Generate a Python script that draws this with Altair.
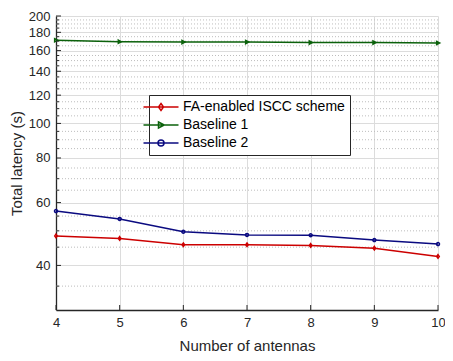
import altair as alt
import pandas as pd

# ---- data ----
antennas = [4, 5, 6, 7, 8, 9, 10]
fa_iscc = [48.4, 47.6, 45.7, 45.7, 45.5, 44.7, 42.4]
baseline1 = [171.0, 169.5, 169.0, 169.0, 168.5, 168.5, 168.0]
baseline2 = [56.8, 54.0, 49.7, 48.7, 48.6, 47.1, 45.9]
series_names = ["FA-enabled ISCC scheme", "Baseline 1", "Baseline 2"]
y_major = [40, 60, 80, 100, 120, 140, 160, 180, 200]
y_minor = [35, 45, 50, 55, 65, 70, 75, 85, 90, 95, 105, 110, 115, 125, 130,
           135, 145, 150, 155, 165, 170, 175, 185, 190, 195]
x_ticks = [4, 5, 6, 7, 8, 9, 10]

colors = ["#cc0000", "#0b610b", "#0a0a80"]
marker_paths = [
    "M0,-1.2L0.85,0L0,1.2L-0.85,0Z",
    "M-0.9,-1.05L1.1,0L-0.9,1.05Z",
    "M1,0A1,1 0 1,1 -1,0A1,1 0 1,1 1,0Z",
]
legend_paths = [
    "M-3.5,0H3.5M0,-0.7L0.5,0L0,0.7L-0.5,0Z",
    "M-3.5,0H3.5M-0.5,-0.6L0.65,0L-0.5,0.6Z",
    "M-3.5,0H3.5M0.6,0A0.6,0.6 0 1,1 -0.6,0A0.6,0.6 0 1,1 0.6,0Z",
]

rows = []
for name, vals in zip(series_names, [fa_iscc, baseline1, baseline2]):
    for a, v in zip(antennas, vals):
        rows.append({"antennas": a, "latency": v, "series": name})
df = pd.DataFrame(rows)
major_df = pd.DataFrame({"latency": y_major})
minor_df = pd.DataFrame({"latency": y_minor})
xt_df = pd.DataFrame({"antennas": x_ticks})

W, H = 382, 294
FONT = "Liberation Sans"
AX = "#262626"

yscale = alt.Scale(type="log", domain=[30, 200], nice=False)
xscale = alt.Scale(domain=[4, 10], nice=False)
cscale = alt.Scale(domain=series_names, range=colors)

x_axis = alt.Axis(values=x_ticks, format="d", grid=True, gridColor="#dcdcdc",
                  tickSize=0, labelPadding=6, domainColor=AX, domainWidth=1.3,
                  labelColor=AX, titleColor=AX, labelFontSize=13, titleFontSize=15,
                  titleFontWeight="normal", titlePadding=9,
                  title="Number of antennas", labelFlush=False,
                  labelFont=FONT, titleFont=FONT)
y_axis = alt.Axis(values=y_major, format="d", grid=True, gridColor="#dcdcdc",
                  tickSize=0, labelPadding=6, domainColor=AX, domainWidth=1.3,
                  labelColor=AX, titleColor=AX, labelFontSize=13, titleFontSize=15,
                  titleFontWeight="normal", titlePadding=4,
                  title="Total latency (s)", labelFont=FONT, titleFont=FONT)


def X(field="antennas:Q"):
    return alt.X(field, scale=xscale, axis=x_axis)


def Y(field="latency:Q"):
    return alt.Y(field, scale=yscale, axis=y_axis)


minor_grid = alt.Chart(minor_df).mark_rule(
    color="#bdbdbd", strokeDash=[1, 2], strokeWidth=1
).encode(y=Y())

lines = alt.Chart(df).mark_line(strokeWidth=1.5).encode(
    x=X(), y=Y(),
    color=alt.Color("series:N", scale=cscale, legend=None),
)

points = alt.Chart(df).mark_point(filled=False, strokeWidth=1.5, size=9, opacity=1).encode(
    x=X(), y=Y(),
    color=alt.Color("series:N", scale=cscale, legend=None),
    shape=alt.Shape("series:N", scale=alt.Scale(domain=series_names, range=marker_paths), legend=None),
)

leg = alt.Legend(
    orient="none", legendX=93, legendY=79, title=None,
    fillColor="white", strokeColor=AX, padding=5,
    labelFont=FONT, labelFontSize=14, labelColor="black", labelLimit=400,
    labelOffset=15, symbolStrokeWidth=1.5, symbolSize=100, rowPadding=4,
)
legend_layer = alt.Chart(df).transform_filter("false").mark_point(
    filled=False, strokeWidth=1.5, size=100, opacity=1
).encode(
    x=X(), y=Y(),
    color=alt.Color("series:N", scale=cscale, legend=leg),
    shape=alt.Shape("series:N", scale=alt.Scale(domain=series_names, range=legend_paths), legend=leg),
)

y_major_ticks = alt.Chart(major_df).mark_rule(color=AX, strokeWidth=1).encode(
    y=Y(), x=alt.value(0), x2=alt.value(5))
y_minor_ticks = alt.Chart(minor_df).mark_rule(color=AX, strokeWidth=1).encode(
    y=Y(), x=alt.value(0), x2=alt.value(3))
x_ticks_layer = alt.Chart(xt_df).mark_rule(color=AX, strokeWidth=1).encode(
    x=X(), y=alt.value(H), y2=alt.value(H - 5))

chart = alt.layer(
    minor_grid, lines, points, y_major_ticks, y_minor_ticks, x_ticks_layer, legend_layer
).resolve_scale(shape="independent").resolve_legend(
    color="independent", shape="independent"
).properties(
    width=W, height=H,
    autosize=alt.AutoSizeParams(type="none"),
    padding={"left": 48, "top": 8, "right": 7, "bottom": 43},
).configure(font=FONT).configure_view(strokeWidth=0)

chart.save("out.html", embed_options={"renderer": "svg", "actions": False})
